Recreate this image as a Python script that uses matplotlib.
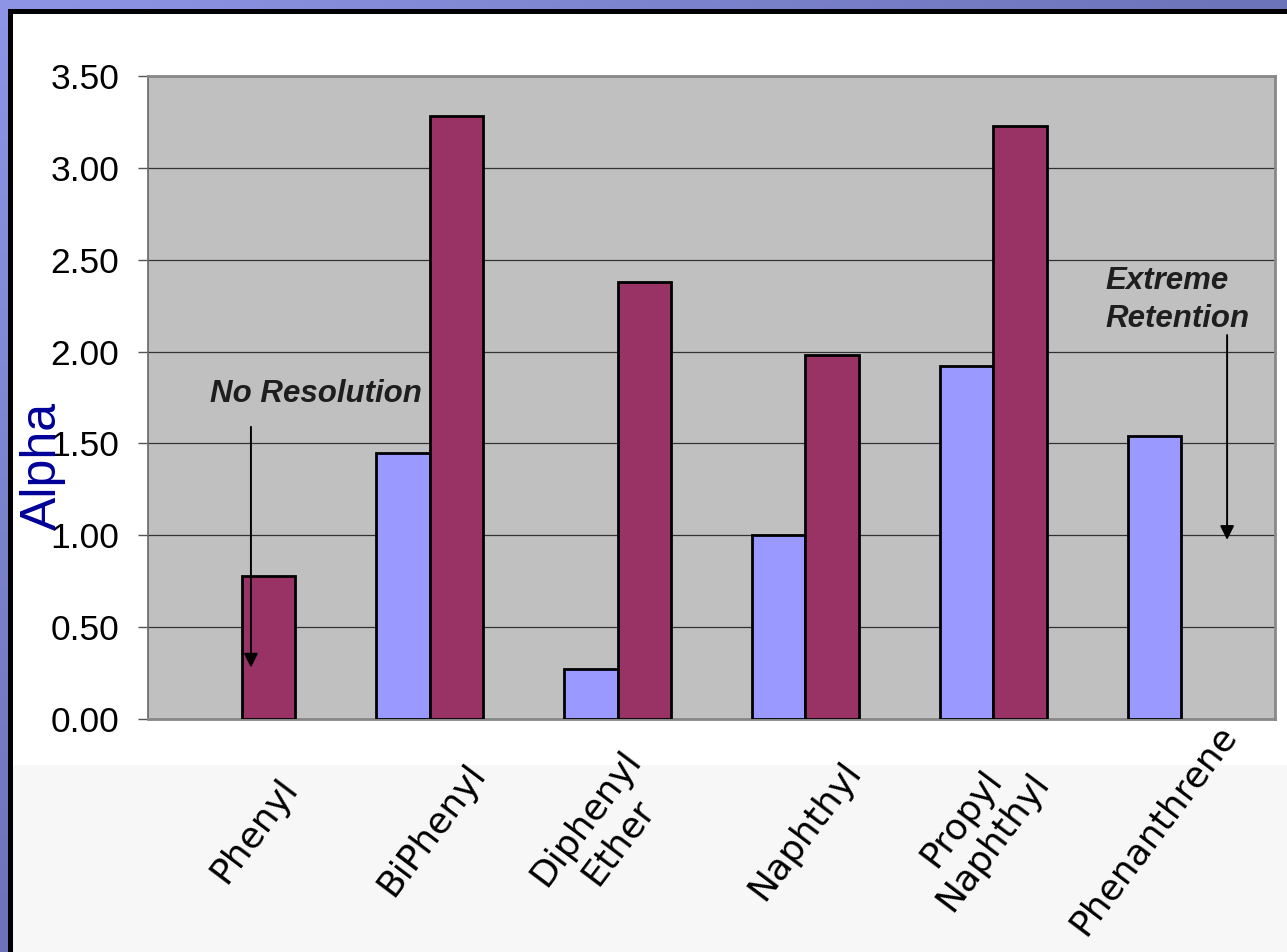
import numpy as np
import matplotlib
matplotlib.use("Agg")
import matplotlib.pyplot as plt
from matplotlib.patches import Rectangle
from matplotlib.transforms import ScaledTranslation

# Selectivity (alpha) per solute for the two stationary phases
categories = ["Phenyl", "BiPhenyl", "Diphenyl\nEther", "Naphthyl",
              "Propyl\nNaphthyl", "Phenanthrene"]
phase_a = [np.nan, 1.45, 0.27, 1.00, 1.92, 1.54]
phase_b = [0.78, 3.28, 2.38, 1.98, 3.23, np.nan]
yticks = [0.0, 0.5, 1.0, 1.5, 2.0, 2.5, 3.0, 3.5]

W, H = 1287, 952
fig = plt.figure(figsize=(W / 100, H / 100), dpi=100)

# ---- slide-style frame: gradient border, black rule, white page, pale footer
bg = fig.add_axes([0, 0, 1, 1], zorder=-10)
bg.set_xlim(0, W)
bg.set_ylim(H, 0)
bg.axis("off")
gx, gy = np.meshgrid(np.linspace(0, 1, 200), np.linspace(0, 1, 200))
t = np.clip(gx + gy, 0, 1)[..., None]
c0 = np.array([0x8E, 0x95, 0xE6]) / 255
c1 = np.array([0x6C, 0x73, 0xB8]) / 255
bg.imshow(c0 * (1 - t) + c1 * t, extent=(0, W, H, 0), aspect="auto",
          interpolation="bilinear")
bg.add_patch(Rectangle((8, 9), W, H, facecolor="black", edgecolor="none"))
bg.add_patch(Rectangle((13, 14), W, H, facecolor="white", edgecolor="none"))
bg.add_patch(Rectangle((13, 765), W, H, facecolor="#F7F7F7", edgecolor="none"))

# ---- chart
left, right, top, bottom = 148, 1275, 76, 719
ax = fig.add_axes([left / W, 1 - bottom / H, (right - left) / W, (bottom - top) / H])
ax.set_facecolor("#C0C0C0")

x = np.arange(len(categories))
width = 0.285
a = np.array(phase_a, dtype=float)
b = np.array(phase_b, dtype=float)
ma = np.isfinite(a)
mb = np.isfinite(b)
ax.bar(x[ma] - width, a[ma], width=width, align="edge", color="#9999FF",
       edgecolor="black", linewidth=2.0, zorder=3)
ax.bar(x[mb], b[mb], width=width, align="edge", color="#993366",
       edgecolor="black", linewidth=2.0, zorder=3)

ax.set_xlim(-0.5, len(categories) - 0.5)
ax.set_ylim(0, 3.5)
ax.set_yticks(yticks)
ax.set_yticklabels([f"{v:.2f}" for v in yticks], fontsize=25.5,
                   family=["Liberation Sans", "DejaVu Sans"])
ax.yaxis.grid(True, color="#333333", linewidth=0.9, zorder=1)
ax.set_axisbelow(True)
ax.tick_params(axis="y", length=7.2, width=1.0, color="#555555", pad=13.5)

for s in ["top", "right", "bottom"]:
    ax.spines[s].set_color("#888888")
    ax.spines[s].set_linewidth(2.0)
ax.spines["left"].set_color("#666666")
ax.spines["left"].set_linewidth(1.2)

# slanted category labels, right edge just past each group centre
ax.set_xticks(x)
ax.set_xticklabels(categories, rotation=53, ha="right", va="center",
                   multialignment="center", fontsize=26,
                   family="DejaVu Sans", linespacing=1.2)
ax.tick_params(axis="x", length=0, pad=80)
shift = ScaledTranslation(0.62, 0, fig.dpi_scale_trans)
for lab in ax.get_xticklabels():
    lab.set_transform(lab.get_transform() + shift)

fig.text(43 / W, 1 - 466 / H, "Alpha", rotation=90, ha="center", va="center",
         fontsize=36, color="#000099", family=["Liberation Sans", "DejaVu Sans"])

# ---- annotations
note = dict(fontsize=22.5, fontweight="bold", fontstyle="italic",
            color="#1E1E1E", family=["Liberation Sans", "DejaVu Sans"], zorder=5)
arrow = dict(arrowstyle="-|>", mutation_scale=21, lw=1.4, color="black",
             shrinkA=0, shrinkB=0)
ax.text(0.395, 1.77, "No Resolution", ha="center", va="center", **note)
ax.annotate("", xy=(0.048, 0.28), xytext=(0.048, 1.59), arrowprops=arrow,
            zorder=6)
ax.text(4.596, 2.28, "Extreme\nRetention", ha="left", va="center",
        multialignment="left", linespacing=1.35, **note)
ax.annotate("", xy=(5.245, 0.975), xytext=(5.245, 2.09), arrowprops=arrow,
            zorder=6)

fig.savefig("out.png", dpi=100)
